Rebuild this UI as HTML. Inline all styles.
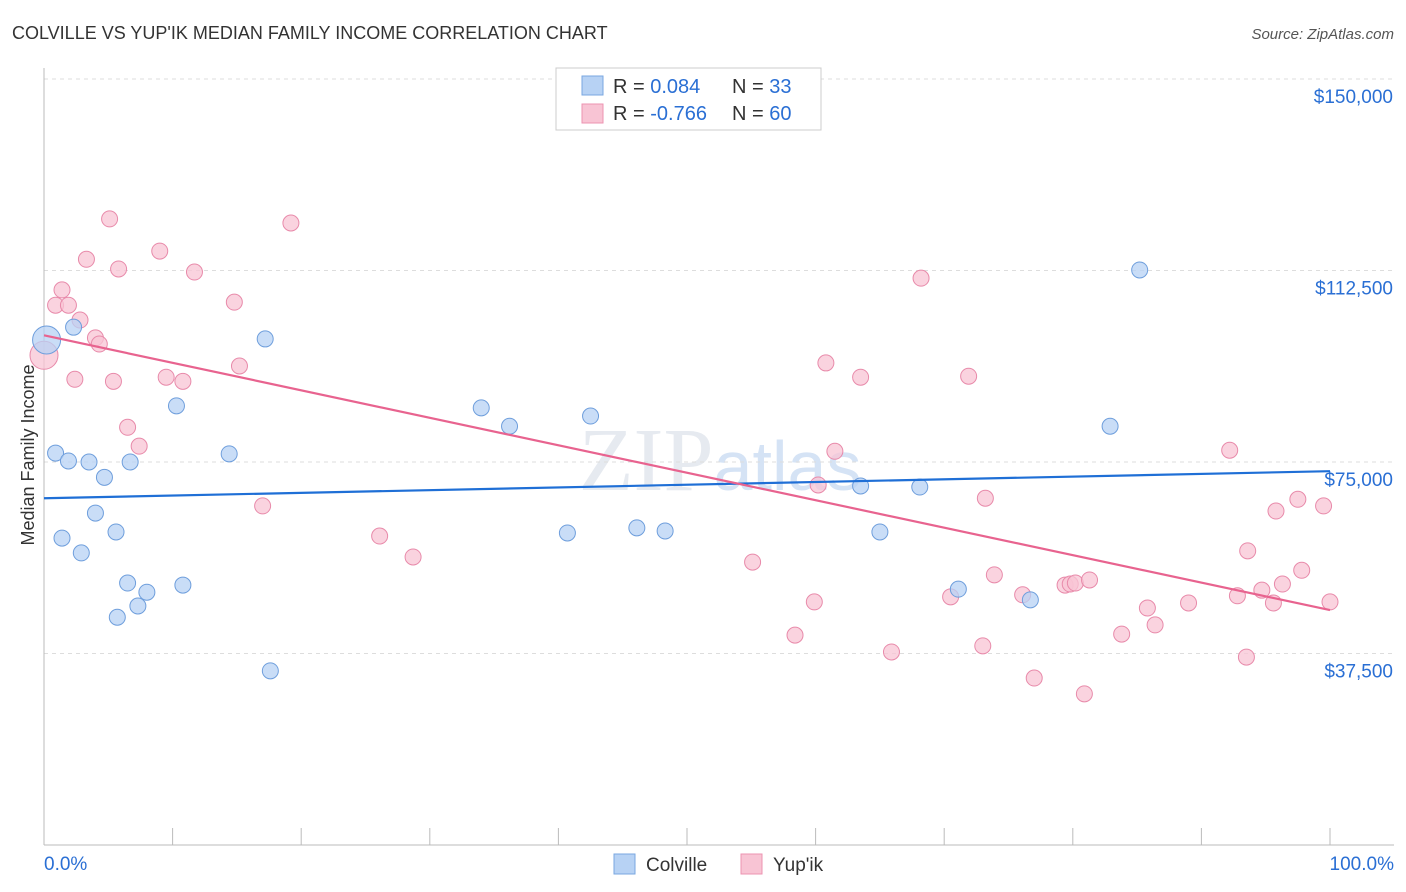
<!DOCTYPE html>
<html><head><meta charset="utf-8"><style>
body{margin:0;background:#fff;font-family:"Liberation Sans",sans-serif;}
#wrap{position:relative;width:1406px;height:892px;overflow:hidden;}
</style></head><body>
<div id="wrap">
<svg id="chart" width="1406" height="892">
<text x="12" y="39" font-size="18" fill="#333">COLVILLE VS YUP'IK MEDIAN FAMILY INCOME CORRELATION CHART</text>
<text x="1394" y="39" font-size="15" fill="#555" font-style="italic" text-anchor="end">Source: ZipAtlas.com</text>
<text x="720" y="490" font-size="90" fill="#e6eaf0" text-anchor="middle" font-family="Liberation Serif">ZIP<tspan fill="#d5e3f5" font-family="Liberation Sans" font-size="70">atlas</tspan></text>
<text transform="translate(34,455) rotate(-90)" font-size="18" fill="#333" text-anchor="middle">Median Family Income</text>
<g id="grid"></g><g id="ticks"></g><g id="marks"></g><g id="lines"></g>
<g>
<rect x="556" y="68" width="265" height="62" fill="#fff" stroke="#ccc"/>
<rect x="582" y="76" width="21" height="19" fill="#b7d2f4" stroke="#7aa7e0"/>
<rect x="582" y="104" width="21" height="19" fill="#f8c4d4" stroke="#ec93b1"/>
<text x="613" y="93" font-size="20" fill="#333">R = <tspan fill="#2a6fd4"> 0.084</tspan><tspan x="732">N = </tspan><tspan fill="#2a6fd4">33</tspan></text>
<text x="613" y="120" font-size="20" fill="#333">R = <tspan fill="#2a6fd4">-0.766</tspan><tspan x="732">N = </tspan><tspan fill="#2a6fd4">60</tspan></text>
</g>
<g>
<rect x="614" y="854" width="21" height="20" fill="#b7d2f4" stroke="#7aa7e0"/>
<text x="646" y="871" font-size="19" fill="#333">Colville</text>
<rect x="741" y="854" width="21" height="20" fill="#f8c4d4" stroke="#ec93b1"/>
<text x="773" y="871" font-size="19" fill="#333">Yup'ik</text>
</g>
<text x="44" y="870" font-size="19" fill="#2a6fd4">0.0%</text>
<text x="1394" y="870" font-size="19" fill="#2a6fd4" text-anchor="end">100.0%</text>
</svg></div>
<script>
const yTickValues=[37500,75000,112500,150000];
const yTickLabels=["$37,500","$75,000","$112,500","$150,000"];
const colvilleX=[0.2,0.9,1.4,1.9,2.3,2.9,3.5,4.0,4.7,5.6,5.7,6.5,6.7,7.3,8.0,10.3,10.8,14.4,17.2,17.6,34.0,36.2,40.7,42.5,46.1,48.3,63.5,65.0,68.1,71.1,76.7,82.9,85.2];
const colvilleY=[98900,76750,60100,75200,101400,57200,75000,65000,72000,61300,44600,51300,75000,46800,49500,86000,50900,76600,99100,34100,85600,82000,61100,84000,62100,61500,70300,61300,70100,50100,48000,82000,112600];
const yupikX=[0,0.9,1.4,1.9,2.4,2.8,3.3,4.0,4.3,5.1,5.4,5.8,6.5,7.4,9.0,9.5,10.8,11.7,14.8,15.2,17.0,19.2,26.1,28.7,55.1,58.4,59.9,60.2,60.8,61.5,63.5,65.9,68.2,70.5,71.9,73.0,73.2,73.9,76.1,77.0,79.4,79.8,80.2,80.9,81.3,83.8,85.8,86.4,89.0,92.2,92.8,93.5,93.6,94.7,95.6,95.8,96.3,97.5,97.8,99.5,100];
const yupikY=[95900,105700,108700,105700,91200,102800,114700,99300,98100,122600,90800,112800,81800,78100,116300,91600,90800,112200,106300,93800,66400,121800,60500,56400,55400,41100,47600,70500,94400,77100,91600,37800,111000,48600,91800,39000,67900,52900,49000,32700,50900,51100,51300,29600,51900,41300,46400,43100,47400,77300,48800,36800,57600,49900,47400,65400,51100,67700,53800,66400,47600];
const colvilleTrend=[67900,73200];
const yupikTrend=[99800,46000];
const NS="http://www.w3.org/2000/svg";
const xs=p=>44+p*12.86;
const ys=v=>845-v/150000*766;
function mk(tag,attrs,parent){const e=document.createElementNS(NS,tag);for(const k in attrs)e.setAttribute(k,attrs[k]);parent.appendChild(e);return e;}
const grid=document.getElementById('grid'),ticks=document.getElementById('ticks'),marks=document.getElementById('marks'),lines=document.getElementById('lines');
yTickValues.forEach((v,i)=>{
 const l=mk('line',{x1:44,x2:1394,y1:ys(v),y2:ys(v),stroke:'#ddd','stroke-dasharray':'4,4'},grid);
 
 
 const t=mk('text',{x:1393,y:ys(v)+24,'font-size':19,fill:'#2a6fd4','text-anchor':'end'},ticks);
 t.textContent=yTickLabels[i];
 
 
});
const ax=mk('line',{x1:44,x2:44,y1:68,y2:845,stroke:'#bbb'},ticks);


const bx=mk('line',{x1:44,x2:1394,y1:845,y2:845,stroke:'#bbb'},ticks);


for(let i=0;i<=10;i++){
 const t=mk('line',{x1:xs(i*10),x2:xs(i*10),y1:828,y2:845,stroke:'#bbb'},ticks);
 
 
}
function dots(X,Y,fill,stroke,name){
 X.forEach((x,i)=>{
  const r=(i===0&&x<0.5)?14:8;
  const c=mk('circle',{cx:xs(x),cy:ys(Y[i]),r:r,fill:fill,'fill-opacity':0.75,stroke:stroke,'stroke-width':1},marks);
  
  
 });
}
dots(yupikX,yupikY,'#f8c4d4','#e88aaa','yupik-point');
dots(colvilleX,colvilleY,'#b7d2f4','#6e9edc','colville-point');
const l1=mk('line',{x1:xs(0),x2:xs(100),y1:ys(colvilleTrend[0]),y2:ys(colvilleTrend[1]),stroke:'#1f6fd6','stroke-width':2.2},lines);


const l2=mk('line',{x1:xs(0),x2:xs(100),y1:ys(yupikTrend[0]),y2:ys(yupikTrend[1]),stroke:'#e8638f','stroke-width':2.2},lines);


</script>
</body></html>
